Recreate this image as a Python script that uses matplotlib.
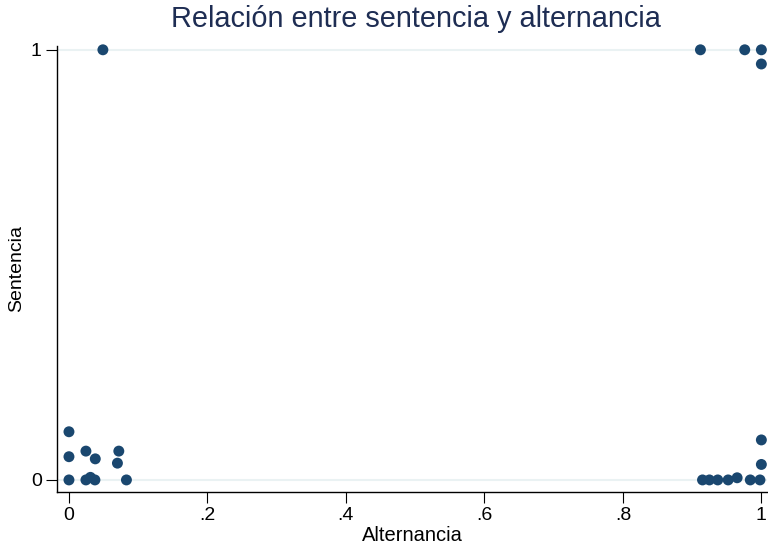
import matplotlib
matplotlib.use('Agg')
import matplotlib.pyplot as plt

# Alternancia (x) and Sentencia (y, jittered)
alternancia = [0.0, 0.0, 0.0, 0.0245, 0.038, 0.0245, 0.031, 0.0375, 0.072, 0.070, 0.083,
               0.049,
               0.915, 0.925, 0.937, 0.952, 0.965, 0.984, 0.998, 1.0, 1.0,
               0.912, 0.976, 1.0, 1.0]
sentencia = [0.112, 0.054, 0.0, 0.067, 0.049, 0.0, 0.006, 0.0, 0.067, 0.039, 0.0,
             1.0,
             0.0, 0.0, 0.0, 0.0, 0.005, 0.0, 0.0, 0.093, 0.036,
             1.0, 1.0, 1.0, 0.967]

X_TICKS = [0, 0.2, 0.4, 0.6, 0.8, 1.0]
X_LABELS = ['0', '.2', '.4', '.6', '.8', '1']
Y_TICKS = [0, 1]
Y_LABELS = ['0', '1']

NAVY = '#1a476f'
TITLE_COLOR = '#1e2d53'

plt.rcParams['font.family'] = ['Liberation Sans', 'DejaVu Sans']


def main():
    fig = plt.figure(figsize=(7.68, 5.5), dpi=100)
    ax = fig.add_axes([0.0742, 0.1055, 0.925, 0.811])

    for yv in Y_TICKS:
        ax.axhline(yv, color='#eaf2f3', lw=1.5, zorder=0)

    ax.scatter(alternancia, sentencia, s=62, color=NAVY, edgecolors='none',
               zorder=3, clip_on=False)

    ax.set_xlim(-0.0173, 1.0087)
    ax.set_ylim(-0.028, 1.009)
    ax.set_xticks(X_TICKS)
    ax.set_xticklabels(X_LABELS)
    ax.set_yticks(Y_TICKS)
    ax.set_yticklabels(Y_LABELS)
    ax.tick_params(axis='both', labelsize=14, length=8, width=0.8, color='black', pad=3)

    ax.spines['top'].set_visible(False)
    ax.spines['right'].set_visible(False)
    ax.spines['left'].set_linewidth(1.0)
    ax.spines['bottom'].set_linewidth(1.0)

    ax.set_xlabel('Alternancia', fontsize=14.5, labelpad=1)
    ax.set_ylabel('Sentencia', fontsize=14, labelpad=4)
    fig.text(0.542, 0.966, 'Relación entre sentencia y alternancia', fontsize=20.8,
             color=TITLE_COLOR, ha='center', va='center')

    fig.savefig('out.png', dpi=100)


if __name__ == '__main__':
    main()
